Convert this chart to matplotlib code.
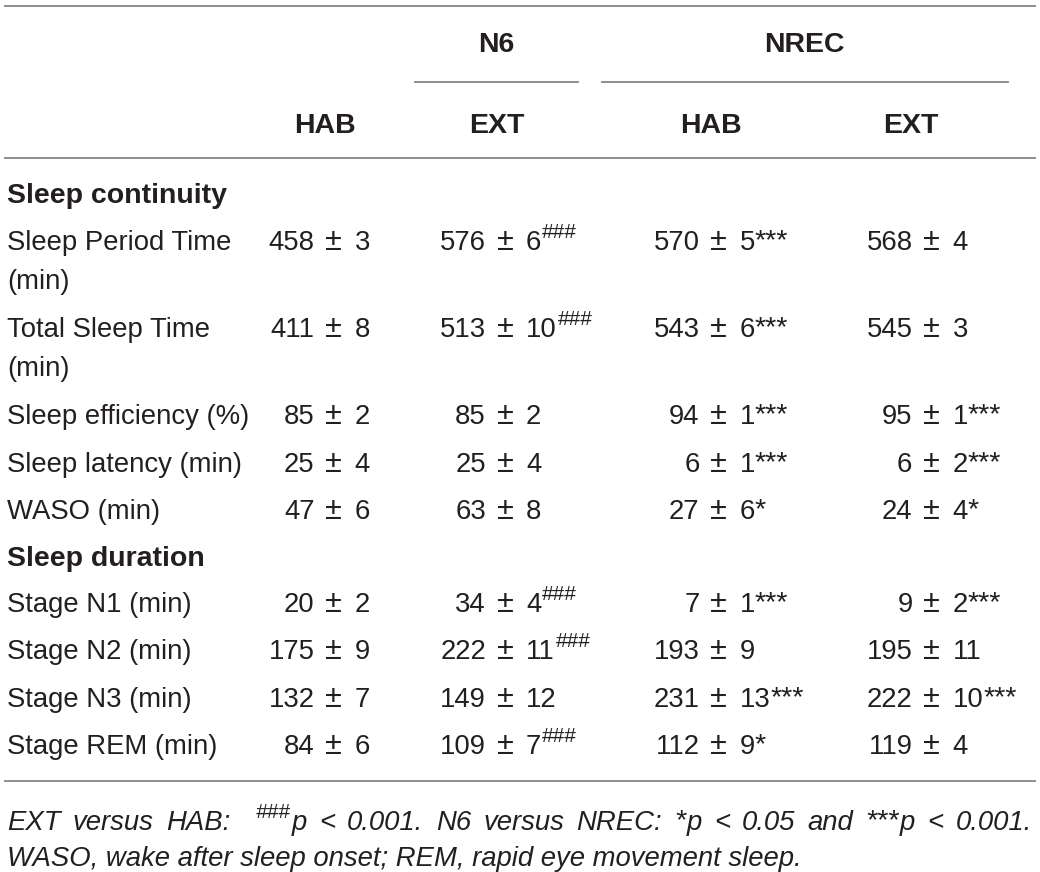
import re
import matplotlib.pyplot as plt

plt.rcParams["font.family"] = ["Liberation Sans", "DejaVu Sans"]

# =========================
# DATA
# =========================

row_labels = [
    "Sleep Period Time\n(min)",
    "Total Sleep Time\n(min)",
    "Sleep efficiency (%)",
    "Sleep latency (min)",
    "WASO (min)",
    "Stage N1 (min)",
    "Stage N2 (min)",
    "Stage N3 (min)",
    "Stage REM (min)",
]
section_labels = ["Sleep continuity", "Sleep duration"]
group_labels = ["N6", "NREC"]
col_labels = ["HAB", "EXT", "HAB", "EXT"]

n6_hab_mean = [458, 411, 85, 25, 47, 20, 175, 132, 84]
n6_hab_sem = [3, 8, 2, 4, 6, 2, 9, 7, 6]
n6_hab_mark = ["", "", "", "", "", "", "", "", ""]

n6_ext_mean = [576, 513, 85, 25, 63, 34, 222, 149, 109]
n6_ext_sem = [6, 10, 2, 4, 8, 4, 11, 12, 7]
n6_ext_mark = ["###", "###", "", "", "", "###", "###", "", "###"]

nrec_hab_mean = [570, 543, 94, 6, 27, 7, 193, 231, 112]
nrec_hab_sem = [5, 6, 1, 1, 6, 1, 9, 13, 9]
nrec_hab_mark = ["***", "***", "***", "***", "*", "***", "", "***", "*"]

nrec_ext_mean = [568, 545, 95, 6, 24, 9, 195, 222, 119]
nrec_ext_sem = [4, 3, 1, 2, 4, 2, 11, 10, 4]
nrec_ext_mark = ["", "", "***", "***", "*", "***", "", "***", ""]

footnote_line1 = "EXT versus HAB:  ###p < 0.001. N6 versus NREC: *p < 0.05 and ***p < 0.001."
footnote_line2 = "WASO, wake after sleep onset; REM, rapid eye movement sleep."

# =========================
# LAYOUT
# =========================

W, H = 1040, 872
fs = 19.8
fs_bold = 20.5
pm_fs = 22
hash_fs = 15
star_fs = 20.5
txt_color = "#231f20"
line_color = "#858585"

fig = plt.figure(figsize=(W / 100, H / 100), dpi=100)
ax = fig.add_axes([0, 0, 1, 1])
ax.set_xlim(0, W)
ax.set_ylim(H, 0)
ax.axis("off")
renderer = fig.canvas.get_renderer()

pm_x = [333.5, 505, 718.5, 931.5]
head_x = [325, 497, 711, 911]
group_x = [496, 804]
group_span = [(415, 578), (602, 1008)]

# horizontal rules
for y in [6, 158, 781]:
    ax.plot([5, 1035], [y, y], color=line_color, lw=1.3)
for (x0, x1) in group_span:
    ax.plot([x0, x1], [82, 82], color=line_color, lw=1.3)

# headers
for gx, g in zip(group_x, group_labels):
    ax.text(gx, 52, g, fontsize=fs_bold, fontweight="bold", color=txt_color,
            ha="center", va="baseline")
for hx, c in zip(head_x, col_labels):
    ax.text(hx, 133, c, fontsize=fs_bold, fontweight="bold", color=txt_color,
            ha="center", va="baseline")

# section labels
ax.text(7, 203, section_labels[0], fontsize=fs_bold, fontweight="bold",
        color=txt_color, ha="left", va="baseline")
ax.text(7, 566, section_labels[1], fontsize=fs_bold, fontweight="bold",
        color=txt_color, ha="left", va="baseline")

row_y = [250, 337, 424, 472, 519, 612, 659, 707, 754]


def right_of(t):
    bb = t.get_window_extent(renderer)
    return ax.transData.inverted().transform((bb.x1, bb.y0))[0]


def draw_mark(x, y, mark, italic=False):
    style = "italic" if italic else "normal"
    if mark.startswith("*"):
        return ax.text(x, y - 2, mark, fontsize=star_fs, style=style,
                       color=txt_color, ha="left", va="baseline")
    return ax.text(x + 1, y - 12.5, mark, fontsize=hash_fs, style=style,
                   color=txt_color, ha="left", va="baseline")


def draw_cell(x, y, mean, sem, mark):
    ax.text(x - 19, y, str(mean), fontsize=fs, color=txt_color,
            ha="right", va="baseline")
    ax.text(x, y, "±", fontsize=pm_fs, color=txt_color,
            ha="center", va="baseline")
    t = ax.text(x + 21, y, str(sem), fontsize=fs, color=txt_color,
                ha="left", va="baseline")
    if mark:
        draw_mark(right_of(t), y, mark)


columns = [
    (n6_hab_mean, n6_hab_sem, n6_hab_mark),
    (n6_ext_mean, n6_ext_sem, n6_ext_mark),
    (nrec_hab_mean, nrec_hab_sem, nrec_hab_mark),
    (nrec_ext_mean, nrec_ext_sem, nrec_ext_mark),
]

for i, label in enumerate(row_labels):
    for k, part in enumerate(label.split("\n")):
        ax.text(7, row_y[i] + 39 * k, part, fontsize=fs, color=txt_color,
                ha="left", va="baseline")
    for j, (means, sems, marks) in enumerate(columns):
        draw_cell(pm_x[j], row_y[i], means[i], sems[i], marks[i])


# footnote: first line justified to the table width
def draw_word(x, y, word):
    m = re.match(r"^([#*]+)(.*)$", word)
    arts = []
    if m:
        t = draw_mark(x, y, m.group(1), italic=True)
        arts.append(t)
        x = right_of(t) + 1
        word = m.group(2)
    t = ax.text(x, y, word, fontsize=fs, style="italic", color=txt_color,
                ha="left", va="baseline")
    arts.append(t)
    return arts, right_of(t)


# an empty word (double space) counts as one extra gap
words = footnote_line1.split(" ")
placed = []
x = 7
for w in words:
    if w == "":
        placed.append(([], x, x))
        continue
    arts, xe = draw_word(x, 830, w)
    placed.append((arts, x, xe))
    x = xe
total = sum(xe - xs for _, xs, xe in placed)
gap = (1032 - 7 - total) / (len(placed) - 1)
x = 7
for arts, xs, xe in placed:
    shift = x - xs
    for a in arts:
        px, py = a.get_position()
        a.set_position((px + shift, py))
    x += (xe - xs) + gap

ax.text(7, 866, footnote_line2, fontsize=fs, style="italic", color=txt_color,
        ha="left", va="baseline")

fig.savefig("out.png", dpi=100)
